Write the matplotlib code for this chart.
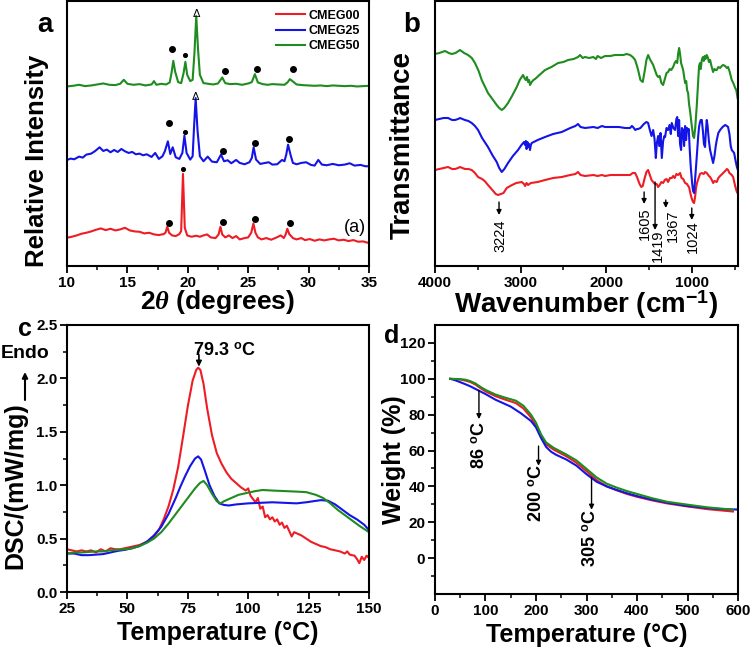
import numpy as np
import matplotlib
matplotlib.use("Agg")
import matplotlib.pyplot as plt

plt.rcParams['font.family'] = ['Liberation Sans', 'DejaVu Sans']
plt.rcParams['font.weight'] = 'bold'
plt.rcParams['axes.labelweight'] = 'bold'
plt.rcParams['mathtext.fontset'] = 'custom'
plt.rcParams['mathtext.it'] = 'Liberation Serif:italic'
plt.rcParams['mathtext.rm'] = 'Liberation Sans:bold'
plt.rcParams['axes.linewidth'] = 1.5

RED, BLUE, GREEN = '#ee1c24', '#1414e6', '#1e8c1e'
W, H = 750, 648

# ---- (a) XRD : 2theta, relative intensity (arb.) ----
xrd_cmeg00 = np.array([
    (10.0, 85), (10.4, 88), (10.8, 92), (11.2, 97), (11.6, 100), (12.0, 104), (12.4, 109),
    (12.8, 113), (13.2, 108), (13.6, 112), (14.0, 107), (14.4, 110), (14.8, 115), (15.2, 107),
    (15.6, 104), (16.0, 103), (16.4, 98), (16.8, 100), (17.2, 95), (17.6, 93), (18.0, 96),
    (18.15, 100), (18.3, 118), (18.45, 100), (18.7, 92), (19.0, 90), (19.3, 96), (19.45, 105),
    (19.6, 277), (19.75, 115), (19.95, 92), (20.3, 88), (20.7, 91), (21.0, 88), (21.3, 92),
    (21.6, 95), (21.9, 86), (22.3, 84), (22.55, 95), (22.7, 118), (22.85, 95), (23.1, 86),
    (23.4, 92), (23.7, 84), (24.0, 90), (24.3, 80), (24.7, 84), (25.0, 86), (25.25, 100),
    (25.43, 128), (25.6, 100), (25.8, 86), (26.1, 80), (26.5, 84), (26.9, 79), (27.3, 85),
    (27.7, 92), (27.95, 84), (28.1, 95), (28.24, 112), (28.4, 96), (28.7, 84), (29.0, 80),
    (29.4, 84), (29.7, 78), (30.1, 81), (30.5, 76), (30.9, 80), (31.3, 77), (31.7, 80),
    (32.1, 82), (32.5, 77), (32.9, 79), (33.3, 75), (33.7, 78), (34.1, 73), (34.5, 74), (35.0, 69)])
xrd_cmeg25 = np.array([
    (10.0, 319), (10.3, 323), (10.6, 321), (11.0, 329), (11.3, 326), (11.6, 335), (12.0, 338),
    (12.3, 345), (12.7, 357), (13.0, 346), (13.3, 350), (13.6, 342), (13.9, 349), (14.2, 343),
    (14.5, 352), (14.8, 345), (15.1, 340), (15.4, 343), (15.7, 336), (16.0, 338), (16.3, 333),
    (16.6, 336), (17.0, 328), (17.3, 340), (17.6, 322), (17.9, 330), (18.1, 345), (18.35, 375),
    (18.55, 337), (18.75, 357), (19.0, 327), (19.3, 322), (19.55, 340), (19.72, 392), (19.9, 340),
    (20.2, 320), (20.4, 330), (20.52, 420), (20.65, 505), (20.8, 410), (21.0, 330), (21.3, 315),
    (21.65, 329), (22.0, 314), (22.4, 312), (22.75, 335), (23.0, 315), (23.3, 318), (23.6, 309),
    (24.0, 319), (24.3, 310), (24.7, 306), (25.1, 312), (25.3, 325), (25.45, 357), (25.65, 320),
    (26.0, 307), (26.4, 310), (26.7, 312), (27.0, 305), (27.4, 306), (27.8, 319), (28.0, 315),
    (28.15, 335), (28.3, 365), (28.5, 335), (28.7, 310), (29.0, 306), (29.4, 310), (29.8, 312),
    (30.2, 304), (30.5, 302), (30.8, 319), (31.1, 305), (31.5, 303), (32.0, 307), (32.5, 303),
    (33.0, 305), (33.4, 309), (33.8, 302), (34.3, 304), (34.7, 300), (35.0, 300)])
xrd_cmeg50 = np.array([
    (10.0, 540), (10.5, 542), (11.0, 545), (11.5, 541), (12.0, 543), (12.5, 546), (13.0, 549),
    (13.5, 545), (14.0, 544), (14.4, 548), (14.7, 560), (15.0, 548), (15.5, 545), (16.0, 547),
    (16.5, 543), (17.0, 546), (17.2, 556), (17.4, 545), (17.8, 548), (18.2, 546), (18.5, 552),
    (18.65, 580), (18.8, 617), (18.95, 585), (19.2, 553), (19.45, 550), (19.65, 580), (19.8, 614),
    (19.95, 575), (20.2, 556), (20.4, 560), (20.55, 640), (20.7, 752), (20.85, 650), (21.0, 575),
    (21.3, 550), (21.7, 548), (22.1, 546), (22.5, 549), (22.85, 567), (23.1, 550), (23.5, 547),
    (24.0, 548), (24.5, 545), (25.0, 549), (25.3, 553), (25.55, 577), (25.8, 552), (26.2, 547),
    (26.6, 545), (27.0, 547), (27.5, 546), (28.0, 545), (28.25, 552), (28.45, 562), (28.7, 555),
    (29.0, 546), (29.5, 544), (30.0, 543), (30.5, 542), (31.0, 543), (31.5, 541), (32.0, 543),
    (32.5, 542), (33.0, 541), (33.5, 542), (34.0, 540), (34.5, 541), (35.0, 542)])
# peak markers: big dots, small dots, triangles
dots_big = np.array([(18.46, 129), (22.9, 132), (25.6, 142), (28.46, 128),
                     (18.46, 430), (22.9, 347), (25.57, 370), (28.4, 382),
                     (18.73, 652), (23.09, 587), (25.7, 592), (28.74, 592)])
dots_small = np.array([(19.6, 292), (19.73, 404), (19.73, 634)])
delta_marks = np.array([(20.65, 507), (20.7, 759)])

# ---- (b) FTIR : wavenumber, transmittance (arb.) ----
ftir_cmeg00 = np.array([
    (4000, 96), (3950, 97), (3900, 98), (3848, 99), (3800, 97), (3766, 97), (3730, 98), (3708, 99),
    (3650, 97), (3610, 97), (3571, 96), (3533, 93), (3497, 89), (3450, 87), (3420, 85), (3381, 81),
    (3330, 76), (3290, 72), (3264, 71), (3230, 72), (3200, 73), (3162, 78), (3100, 81), (3050, 83),
    (2987, 84), (2960, 82), (2948, 80), (2930, 83), (2913, 81), (2880, 83), (2800, 84), (2714, 86),
    (2620, 88), (2519, 89), (2420, 91), (2360, 92), (2329, 94), (2300, 91), (2247, 90), (2150, 91),
    (2100, 90), (2050, 91), (2013, 90), (1950, 91), (1850, 91), (1780, 91), (1721, 91), (1690, 93),
    (1662, 93), (1640, 89), (1610, 82), (1590, 79), (1573, 80), (1550, 88), (1530, 94), (1510, 96),
    (1490, 91), (1470, 86), (1451, 84), (1430, 82), (1410, 82), (1393, 79), (1375, 81), (1355, 84),
    (1335, 83), (1315, 86), (1295, 87), (1277, 84), (1255, 88), (1234, 88), (1218, 90), (1200, 88),
    (1180, 92), (1160, 91), (1136, 93), (1120, 88), (1100, 87), (1078, 83), (1055, 82), (1043, 80),
    (1032, 79), (1012, 71), (995, 66), (985, 64), (973, 63), (960, 70), (950, 78), (939, 83),
    (920, 88), (904, 92), (883, 93), (860, 92), (845, 94), (825, 93), (800, 90), (786, 89),
    (766, 86), (750, 83), (735, 85), (708, 84), (690, 88), (669, 90), (634, 93), (610, 95),
    (590, 97), (576, 96), (560, 93), (533, 91), (517, 89), (493, 80), (473, 74), (465, 73)])
ftir_cmeg25 = np.array([
    (4000, 146), (3950, 147), (3900, 148), (3848, 148), (3800, 146), (3766, 146), (3730, 147),
    (3708, 148), (3650, 146), (3610, 145), (3571, 143), (3533, 140), (3497, 136), (3450, 128),
    (3420, 124), (3381, 119), (3330, 111), (3279, 104), (3250, 98), (3220, 94), (3190, 97),
    (3147, 103), (3090, 110), (3030, 116), (2990, 121), (2960, 124), (2948, 121), (2938, 125),
    (2930, 117), (2920, 124), (2913, 119), (2900, 122), (2890, 116), (2880, 121), (2870, 123),
    (2800, 126), (2714, 129), (2620, 132), (2519, 134), (2420, 138), (2360, 140), (2329, 142),
    (2300, 139), (2247, 138), (2150, 139), (2100, 138), (2050, 140), (2013, 139), (1950, 139),
    (1850, 139), (1780, 138), (1721, 138), (1700, 140), (1686, 139), (1660, 136), (1640, 137),
    (1627, 137), (1600, 138), (1560, 142), (1530, 144), (1510, 143), (1490, 136), (1470, 130),
    (1451, 136), (1435, 127), (1420, 108), (1408, 123), (1393, 130), (1380, 120), (1365, 133),
    (1350, 108), (1335, 125), (1320, 130), (1312, 129), (1295, 138), (1277, 136), (1260, 141),
    (1245, 132), (1234, 143), (1215, 138), (1195, 136), (1180, 147), (1170, 149), (1160, 130),
    (1148, 146), (1137, 122), (1125, 116), (1115, 138), (1101, 136), (1090, 120), (1078, 140),
    (1066, 126), (1055, 138), (1043, 136), (1035, 137), (1025, 118), (1012, 99), (995, 82),
    (985, 75), (973, 73), (960, 88), (942, 109), (925, 130), (915, 139), (904, 144), (895, 146),
    (883, 146), (870, 135), (858, 122), (845, 119), (835, 135), (825, 146), (815, 140), (800, 125),
    (786, 116), (770, 110), (751, 103), (735, 110), (720, 120), (708, 126), (690, 133), (669, 136),
    (640, 139), (610, 141), (590, 140), (576, 139), (560, 132), (545, 120), (533, 116), (515, 114),
    (505, 113), (490, 106), (473, 99), (465, 97)])
ftir_cmeg50 = np.array([
    (4000, 212), (3950, 213), (3883, 215), (3840, 213), (3805, 212), (3760, 213), (3708, 216),
    (3660, 213), (3614, 211), (3570, 208), (3533, 203), (3490, 195), (3454, 186), (3420, 180),
    (3381, 173), (3330, 167), (3279, 161), (3250, 158), (3220, 156), (3190, 158), (3147, 163),
    (3100, 170), (3045, 179), (3010, 186), (2972, 191), (2955, 188), (2940, 186), (2925, 189),
    (2913, 184), (2900, 186), (2890, 181), (2870, 184), (2850, 186), (2831, 187), (2780, 191),
    (2714, 196), (2640, 199), (2562, 203), (2500, 204), (2445, 206), (2380, 207), (2329, 209),
    (2305, 211), (2275, 208), (2247, 209), (2200, 208), (2150, 209), (2120, 207), (2100, 210),
    (2060, 208), (2013, 210), (1950, 210), (1900, 211), (1850, 211), (1800, 211), (1760, 212),
    (1721, 211), (1690, 209), (1662, 206), (1640, 200), (1627, 196), (1600, 186), (1573, 184),
    (1550, 195), (1530, 206), (1510, 211), (1490, 207), (1470, 204), (1451, 201), (1430, 196),
    (1410, 191), (1393, 189), (1375, 190), (1355, 183), (1335, 181), (1315, 187), (1295, 193),
    (1277, 194), (1258, 197), (1240, 196), (1218, 199), (1200, 203), (1185, 205), (1170, 203),
    (1160, 212), (1148, 218), (1137, 212), (1125, 203), (1115, 200), (1101, 196), (1090, 190),
    (1078, 183), (1065, 185), (1055, 176), (1043, 173), (1032, 162), (1020, 155), (1012, 149),
    (1000, 140), (985, 130), (973, 128), (960, 138), (950, 150), (942, 160), (925, 185), (915, 200),
    (904, 203), (895, 197), (885, 205), (876, 208), (868, 209), (860, 205), (850, 210), (840, 207),
    (825, 211), (810, 208), (800, 204), (786, 206), (770, 200), (751, 194), (735, 197), (720, 196),
    (708, 196), (690, 199), (669, 198), (650, 200), (634, 201), (610, 200), (590, 198), (576, 199),
    (560, 195), (533, 186), (515, 183), (493, 178), (480, 176), (465, 168)])
# band labels: text, arrow x, arrow top, arrow bottom, text x, text centre y
ftir_bands = [("3224", 3252, 64, 51, 3230, 30),
              ("1605", 1557, 74, 62, 1546, 42),
              ("1419", 1429, 84, 36, 1400, 20),
              ("1367", 1304, 66, 58, 1218, 40),
              ("1024", 1000, 58, 46, 985, 29)]

# ---- (c) DSC : temperature, heat flow ----
dsc_cmeg00 = np.array([
    (25, 0.40), (27, 0.39), (29, 0.38), (31, 0.39), (33, 0.38), (35, 0.39), (37, 0.37), (39, 0.40),
    (41, 0.38), (43, 0.41), (45, 0.40), (47, 0.40), (49, 0.41), (51, 0.42), (53, 0.43), (55, 0.44),
    (57, 0.46), (59, 0.48), (61, 0.52), (63, 0.58), (65, 0.68), (67, 0.80), (69, 0.96), (71, 1.17),
    (73, 1.45), (75, 1.74), (77, 1.98), (78.5, 2.08), (79.3, 2.10), (80.2, 2.08), (81.5, 1.95),
    (83, 1.72), (85, 1.47), (87, 1.30), (89, 1.20), (91, 1.12), (93, 1.06), (95, 1.02), (97, 0.98),
    (99, 0.95), (100, 0.97), (101, 0.90), (103, 0.84), (104, 0.88), (105, 0.78), (106, 0.80),
    (107, 0.70), (108, 0.72), (109, 0.68), (110, 0.70), (111, 0.66), (112, 0.68), (113, 0.63),
    (114, 0.65), (115, 0.60), (116, 0.62), (117, 0.57), (118, 0.52), (119, 0.56), (120, 0.55),
    (122, 0.53), (124, 0.50), (126, 0.47), (128, 0.45), (130, 0.43), (132, 0.42), (134, 0.40),
    (136, 0.39), (138, 0.38), (140, 0.36), (141, 0.38), (142, 0.35), (144, 0.34), (145, 0.31),
    (146, 0.27), (147, 0.33), (148, 0.30), (149, 0.34), (150, 0.32)])
dsc_cmeg25 = np.array([
    (25, 0.36), (28, 0.36), (31, 0.345), (34, 0.345), (37, 0.35), (40, 0.355), (43, 0.37),
    (46, 0.385), (49, 0.395), (52, 0.41), (55, 0.43), (58, 0.47), (61, 0.53), (64, 0.61),
    (67, 0.73), (70, 0.88), (72, 0.99), (74, 1.09), (76, 1.18), (78, 1.25), (79.3, 1.27),
    (80.5, 1.24), (82, 1.14), (84, 1.00), (86, 0.90), (88, 0.83), (90, 0.815), (92, 0.81),
    (95, 0.82), (100, 0.83), (105, 0.835), (110, 0.84), (115, 0.835), (120, 0.83), (124, 0.84),
    (127, 0.85), (130, 0.86), (133, 0.855), (136, 0.82), (139, 0.77), (142, 0.72), (145, 0.68),
    (148, 0.63), (150, 0.58)])
dsc_cmeg50 = np.array([
    (25, 0.36), (28, 0.37), (31, 0.37), (34, 0.375), (37, 0.38), (40, 0.38), (43, 0.39),
    (46, 0.395), (49, 0.40), (52, 0.41), (55, 0.43), (58, 0.46), (61, 0.50), (64, 0.56),
    (67, 0.64), (70, 0.73), (73, 0.82), (76, 0.91), (78, 0.97), (80, 1.02), (81.5, 1.04),
    (83, 1.00), (85, 0.92), (87, 0.85), (88.5, 0.83), (90, 0.85), (93, 0.88), (96, 0.91),
    (100, 0.93), (103, 0.945), (106, 0.955), (110, 0.95), (115, 0.945), (120, 0.94), (124, 0.935),
    (128, 0.91), (131, 0.88), (134, 0.83), (137, 0.77), (140, 0.72), (143, 0.67), (146, 0.62),
    (148, 0.59), (150, 0.56)])

# ---- (d) TGA : temperature, weight % ----
tga_cmeg00 = np.array([
    (30, 100), (50, 99.6), (60, 99.0), (70, 98.2), (80, 96.8), (90, 94.8), (100, 93.0),
    (120, 90.3), (140, 88.3), (160, 86.5), (175, 83.5), (190, 78.5), (200, 74.0), (210, 67.8),
    (220, 63.5), (235, 60.5), (260, 56.8), (280, 53.2), (300, 48.5), (320, 43.5), (340, 40.0),
    (360, 37.8), (380, 35.8), (400, 34.2), (430, 32.2), (460, 30.5), (500, 28.8), (540, 27.3),
    (590, 26.0)])
tga_cmeg25 = np.array([
    (30, 100), (40, 99.2), (50, 98.1), (60, 97.0), (70, 95.8), (86, 93.5), (100, 91.5),
    (120, 88.3), (150, 84.5), (170, 80.8), (190, 76.5), (200, 72.9), (210, 67.0), (220, 62.0),
    (230, 59.3), (240, 57.6), (260, 55.0), (280, 51.6), (300, 46.8), (320, 42.6), (340, 40.0),
    (360, 38.0), (380, 36.2), (400, 34.6), (430, 32.6), (460, 30.9), (500, 29.1), (540, 27.9),
    (570, 27.3), (600, 27.1)])
tga_cmeg50 = np.array([
    (30, 100), (50, 99.8), (60, 99.5), (70, 98.7), (80, 97.4), (90, 95.5), (100, 93.8),
    (120, 91.2), (140, 89.4), (160, 87.8), (175, 85.0), (190, 80.0), (200, 75.5), (210, 69.0),
    (220, 64.5), (235, 61.5), (260, 57.8), (280, 54.5), (300, 49.8), (320, 45.0), (340, 41.5),
    (360, 39.3), (380, 37.4), (400, 35.8), (430, 33.4), (460, 31.4), (500, 29.8), (540, 28.3),
    (590, 27.0)])
# step labels: text, arrow x, arrow top, arrow bottom, text x, text centre y
tga_steps = [("86 $^{\\rm o}$C", 87, 93.5, 77.5, 89, 63),
             ("200 $^{\\rm o}$C", 205, 62.5, 51.5, 203, 36),
             ("305 $^{\\rm o}$C", 310, 45, 27, 309, 11)]

labels = ['CMEG00', 'CMEG25', 'CMEG50']
colors = [RED, BLUE, GREEN]


def box(l, t, r, b):
    # pixel box -> figure fraction
    return [l / W, 1 - b / H, (r - l) / W, (b - t) / H]


def style(ax):
    ax.tick_params(direction='out', width=1.3, length=5, labelsize=11, pad=2)
    ax.tick_params(which='minor', direction='out', width=1.1, length=3)
    for lab in ax.get_xticklabels() + ax.get_yticklabels():
        lab.set_fontweight('bold')


def down_arrow(ax, x, y0, y1, lw=1.0, ms=7):
    ax.annotate('', xy=(x, y1), xytext=(x, y0),
                arrowprops=dict(arrowstyle='-|>', color='black', lw=lw, mutation_scale=ms,
                                shrinkA=0, shrinkB=0))


fig = plt.figure(figsize=(W / 100, H / 100), dpi=100)

# (a)
ax = fig.add_axes(box(67, 1, 369, 266))
for d, c, lab in zip([xrd_cmeg00, xrd_cmeg25, xrd_cmeg50], colors, labels):
    ax.plot(d[:, 0], d[:, 1], color=c, lw=1.5, label=lab)
ax.scatter(dots_big[:, 0], dots_big[:, 1], s=16, color='black', zorder=3)
ax.scatter(dots_small[:, 0], dots_small[:, 1], s=7, color='black', zorder=3)
for x, y in delta_marks:
    ax.text(x, y, 'Δ', ha='center', va='center', fontsize=8, fontweight='normal')
ax.text(33.8, 117, '(a)', ha='center', va='center', fontsize=13, fontweight='normal')
ax.set_xlim(10, 35)
ax.set_ylim(0, 797)
ax.set_xticks([10, 15, 20, 25, 30, 35])
ax.set_xticks(np.arange(12.5, 35, 5), minor=True)
ax.set_yticks([])
ax.set_xlabel('$2\\theta$ (degrees)', fontsize=19, labelpad=-1)
ax.set_ylabel('Relative Intensity', fontsize=18.5)
ax.yaxis.set_label_coords(-0.058, 0.396)
ax.legend(loc='upper right', frameon=False, prop={'size': 9, 'weight': 'bold'},
          handlelength=2.3, handletextpad=0.3, labelspacing=0.25, borderaxespad=0.3)
style(ax)

# (b)
ax = fig.add_axes(box(435, 1, 738, 266))
for d, c in zip([ftir_cmeg00, ftir_cmeg25, ftir_cmeg50], colors):
    ax.plot(d[:, 0], d[:, 1], color=c, lw=1.5)
for txt, ax_x, y0, y1, tx, ty in ftir_bands:
    down_arrow(ax, ax_x, y0, y1)
    ax.text(tx, ty, txt, rotation=90, ha='center', va='center', fontsize=10.5, fontweight='normal')
ax.set_xlim(4000, 460)
ax.set_ylim(0, 265)
ax.set_xticks([4000, 3000, 2000, 1000])
ax.set_xticks([3500, 2500, 1500, 500], minor=True)
ax.set_yticks([])
ax.set_xlabel('Wavenumber (cm$^{-1}$)', fontsize=20, labelpad=-1)
ax.set_ylabel('Transmittance', fontsize=20)
ax.yaxis.set_label_coords(-0.062, 0.457)
style(ax)

# (c)
ax = fig.add_axes(box(67, 325, 369, 592))
for d, c in zip([dsc_cmeg00, dsc_cmeg25, dsc_cmeg50], colors):
    ax.plot(d[:, 0], d[:, 1], color=c, lw=1.5)
down_arrow(ax, 79.6, 2.22, 2.11, lw=1.2, ms=8)
ax.text(77, 2.17, '79.3 $^{\\rm o}$C', ha='left', va='bottom', fontsize=13)
ax.set_xlim(25, 150)
ax.set_ylim(0, 2.5)
ax.set_xticks([25, 50, 75, 100, 125, 150])
ax.set_xticks(np.arange(37.5, 150, 25), minor=True)
ax.set_yticks(np.arange(0, 2.51, 0.5))
ax.set_yticks(np.arange(0.25, 2.5, 0.5), minor=True)
ax.yaxis.set_major_formatter(matplotlib.ticker.FormatStrFormatter('%.1f'))
ax.set_xlabel('Temperature (°C)', fontsize=18, labelpad=4)
ax.set_ylabel('DSC/(mW/mg)', fontsize=18)
ax.yaxis.set_label_coords(-0.13, 0.4)
style(ax)

# (d)
ax = fig.add_axes(box(435, 325, 738, 594))
for d, c in zip([tga_cmeg00, tga_cmeg25, tga_cmeg50], colors):
    ax.plot(d[:, 0], d[:, 1], color=c, lw=1.5)
for txt, ax_x, y0, y1, tx, ty in tga_steps:
    down_arrow(ax, ax_x, y0, y1)
    ax.text(tx, ty, txt, rotation=90, ha='center', va='center', fontsize=13)
ax.set_xlim(0, 600)
ax.set_ylim(-20, 130)
ax.set_xticks(np.arange(0, 601, 100))
ax.set_xticks(np.arange(50, 600, 100), minor=True)
ax.set_yticks(np.arange(0, 121, 20))
ax.set_yticks(np.arange(-10, 130, 20), minor=True)
ax.set_xlabel('Temperature (°C)', fontsize=18, labelpad=4)
ax.set_ylabel('Weight (%)', fontsize=18)
ax.yaxis.set_label_coords(-0.095, 0.5)
style(ax)

# panel letters and the endotherm marker
fig.text(45 / W, 1 - 25 / H, 'a', fontsize=20, ha='center', va='center')
fig.text(412 / W, 1 - 25 / H, 'b', fontsize=20, ha='center', va='center')
fig.text(25 / W, 1 - 329 / H, 'c', fontsize=18, ha='center', va='center')
fig.text(392 / W, 1 - 336 / H, 'd', fontsize=18, ha='center', va='center')
fig.text(25 / W, 1 - 354 / H, 'Endo', fontsize=14, ha='center', va='center')
fig.add_artist(matplotlib.patches.FancyArrowPatch(
    (25 / W, 1 - 400 / H), (25 / W, 1 - 372 / H), transform=fig.transFigure,
    arrowstyle='-|>', mutation_scale=8, lw=1.5, color='black', shrinkA=0, shrinkB=0))

fig.savefig('out.png', dpi=100)
